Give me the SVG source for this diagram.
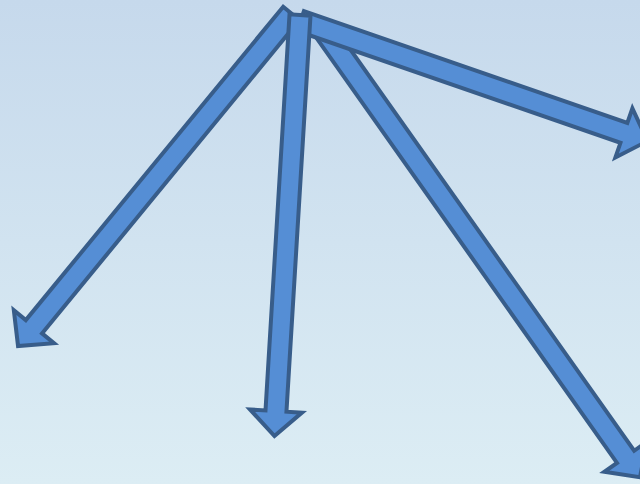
<svg xmlns="http://www.w3.org/2000/svg" width="640" height="484" viewBox="0 0 640 484">
<defs>
<linearGradient id="bg" x1="0" y1="0" x2="0" y2="1">
<stop offset="0" stop-color="#c6d9ec"/>
<stop offset="1" stop-color="#dcedf4"/>
</linearGradient>
<style>
.arrow{fill:#558ED5;stroke:#385D8A;stroke-width:4;stroke-linejoin:miter;stroke-miterlimit:10}
</style>
</defs>
<rect x="0" y="0" width="640" height="484" fill="url(#bg)"/>
<g id="connectors">
<g id="arrow-down-right">
<polygon class="arrow" transform="translate(323.7,30) rotate(54.73)" points="0,-10.5 522.8,-10.5 522.8,-26 547.8,0 522.8,26 522.8,10.5 0,10.5"/>
</g>
<g id="arrow-down-left">
<polygon class="arrow" transform="translate(291.3,13.4) rotate(129.4)" points="0,-10.5 405.5,-10.5 405.5,-26 430.5,0 405.5,26 405.5,10.5 0,10.5"/>
</g>
<g id="arrow-right">
<polygon class="arrow" transform="translate(300.5,21) rotate(19.08)" points="0,-10.5 342.2,-10.5 342.2,-26 367.2,0 342.2,26 342.2,10.5 0,10.5"/>
</g>
<g id="arrow-down">
<polygon class="arrow" transform="translate(300,15) rotate(93.47)" points="0,-10.5 396.8,-10.5 396.8,-26 421.8,0 396.8,26 396.8,10.5 0,10.5"/>
</g>
</g>
</svg>
